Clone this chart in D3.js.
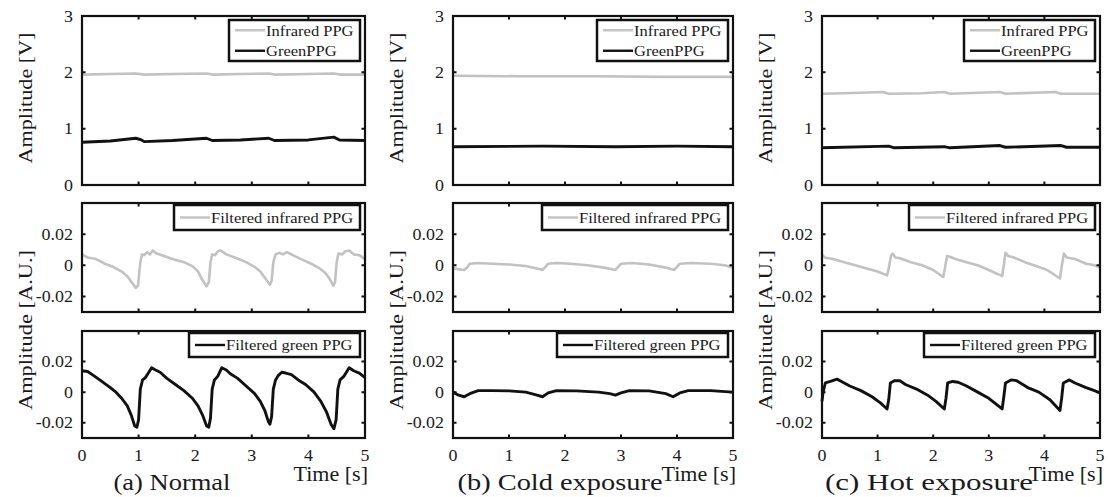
<!DOCTYPE html>
<html lang="en">
<head>
<meta charset="utf-8">
<title>PPG exposure</title>
<script src="https://cdn.jsdelivr.net/npm/d3@7/dist/d3.min.js"></script>
<style>
  body { margin: 0; background: #fff; }
  svg { display: block; }
  text { font-family: "Liberation Serif", "Times New Roman", serif; fill: #1a1a1a; }
</style>
</head>
<body>
<svg id="chart" width="1108" height="497"></svg>
<script>
// ---- data: [time s, amplitude] ----
var normalIr = [[0,1.96],[0.5,1.97],[0.95,1.98],[1.1,1.96],[1.6,1.97],[2.2,1.98],[2.3,1.96],[2.8,1.97],[3.3,1.98],[3.4,1.96],[4.0,1.97],[4.45,1.98],[4.55,1.96],[5,1.96]];
var normalGreen = [[0,0.76],[0.5,0.78],[0.95,0.83],[1.05,0.8],[1.1,0.77],[1.6,0.79],[2.2,0.83],[2.3,0.79],[2.8,0.8],[3.3,0.83],[3.4,0.79],[4.0,0.8],[4.45,0.85],[4.55,0.8],[5,0.79]];
var coldIr = [[0,1.94],[1.2,1.93],[2.5,1.93],[3.8,1.92],[5,1.92]];
var coldGreen = [[0,0.68],[1.6,0.69],[2.9,0.68],[4.0,0.69],[5,0.68]];
var hotIr = [[0,1.62],[0.4,1.63],[1.1,1.65],[1.2,1.62],[1.8,1.63],[2.2,1.65],[2.3,1.62],[3.2,1.65],[3.3,1.62],[4.2,1.65],[4.3,1.62],[5,1.62]];
var hotGreen = [[0,0.66],[1.2,0.69],[1.3,0.66],[2.2,0.68],[2.3,0.66],[3.2,0.7],[3.3,0.67],[4.3,0.7],[4.4,0.67],[5,0.67]];

var normalIrF = [[0,0.007],[0.1,0.005],[0.25,0.004],[0.4,0.001],[0.55,-0.001],[0.7,-0.004],[0.8,-0.007],[0.88,-0.011],[0.95,-0.0145],[0.99,-0.013],[1.03,0.002],[1.06,0.007],[1.1,0.0065],[1.15,0.0085],[1.2,0.007],[1.25,0.0095],[1.32,0.0075],[1.45,0.006],[1.6,0.004],[1.8,0.002],[1.95,-0.0005],[2.05,-0.004],[2.12,-0.009],[2.2,-0.0135],[2.24,-0.011],[2.27,0.002],[2.3,0.007],[2.35,0.0065],[2.4,0.009],[2.45,0.0095],[2.55,0.007],[2.7,0.005],[2.9,0.002],[3.05,-0.001],[3.15,-0.004],[3.25,-0.009],[3.32,-0.0125],[3.35,-0.01],[3.38,0.002],[3.42,0.007],[3.48,0.008],[3.55,0.007],[3.62,0.0085],[3.75,0.006],[3.9,0.0035],[4.05,0.001],[4.2,-0.002],[4.3,-0.005],[4.38,-0.009],[4.44,-0.013],[4.47,-0.011],[4.5,0.002],[4.53,0.0075],[4.6,0.007],[4.65,0.009],[4.72,0.0095],[4.8,0.007],[4.9,0.0065],[5,0.004]];
var normalGreenF = [[0,0.014],[0.1,0.0135],[0.2,0.011],[0.35,0.007],[0.5,0.003],[0.6,0],[0.7,-0.004],[0.8,-0.009],[0.87,-0.015],[0.93,-0.022],[0.97,-0.023],[1.0,-0.018],[1.03,0.002],[1.07,0.008],[1.12,0.0095],[1.18,0.013],[1.23,0.016],[1.3,0.0145],[1.38,0.013],[1.5,0.009],[1.65,0.005],[1.8,0.001],[1.95,-0.004],[2.05,-0.009],[2.13,-0.015],[2.2,-0.022],[2.24,-0.023],[2.27,-0.017],[2.3,0.002],[2.34,0.008],[2.4,0.0105],[2.47,0.016],[2.55,0.0145],[2.62,0.012],[2.75,0.009],[2.9,0.004],[3.05,-0.001],[3.15,-0.006],[3.23,-0.012],[3.29,-0.019],[3.32,-0.021],[3.35,-0.016],[3.38,0.002],[3.42,0.008],[3.47,0.011],[3.53,0.013],[3.6,0.0125],[3.7,0.0115],[3.82,0.008],[3.95,0.005],[4.1,0],[4.22,-0.006],[4.32,-0.013],[4.4,-0.021],[4.45,-0.024],[4.49,-0.018],[4.52,0.002],[4.56,0.008],[4.63,0.0105],[4.72,0.016],[4.8,0.014],[4.9,0.0125],[5,0.0095]];
var coldIrF = [[0,-0.002],[0.1,-0.0025],[0.2,-0.003],[0.25,-0.0015],[0.3,0.001],[0.45,0.0015],[0.7,0.001],[1.0,0.0005],[1.3,-0.0005],[1.5,-0.002],[1.6,-0.003],[1.65,-0.001],[1.7,0.001],[1.85,0.0015],[2.1,0.001],[2.4,0],[2.7,-0.0015],[2.9,-0.003],[2.95,-0.001],[3.0,0.001],[3.2,0.0015],[3.5,0.0005],[3.8,-0.0015],[3.95,-0.003],[4.0,-0.001],[4.05,0.001],[4.25,0.0015],[4.6,0.001],[4.85,0],[5,-0.0015]];
var coldGreenF = [[0,0],[0.1,-0.002],[0.2,-0.003],[0.3,-0.001],[0.45,0.001],[0.7,0.001],[1.0,0.0008],[1.3,0],[1.5,-0.002],[1.6,-0.003],[1.7,-0.0005],[1.85,0.001],[2.2,0.0008],[2.6,0],[2.8,-0.001],[2.9,-0.002],[3.0,-0.0005],[3.15,0.001],[3.5,0.0008],[3.8,-0.001],[3.93,-0.003],[4.05,-0.0005],[4.2,0.001],[4.6,0.001],[5,0]];
var hotIrF = [[0,0.007],[0.05,0.005],[0.2,0.004],[0.4,0.002],[0.6,0],[0.8,-0.002],[1.0,-0.004],[1.17,-0.0065],[1.2,-0.002],[1.24,0.006],[1.27,0.0075],[1.32,0.005],[1.4,0.0045],[1.6,0.002],[1.8,0],[2.0,-0.003],[2.18,-0.0075],[2.21,-0.002],[2.25,0.006],[2.3,0.0055],[2.4,0.004],[2.6,0.002],[2.8,0],[3.0,-0.003],[3.24,-0.007],[3.27,0],[3.3,0.008],[3.35,0.006],[3.45,0.005],[3.65,0.002],[3.85,-0.0005],[4.05,-0.003],[4.28,-0.0085],[4.31,-0.001],[4.35,0.0075],[4.4,0.005],[4.55,0.004],[4.75,0.001],[4.9,0],[5,-0.0015]];
var hotGreenF = [[0,-0.006],[0.02,0],[0.06,0.006],[0.15,0.007],[0.27,0.0085],[0.35,0.007],[0.5,0.004],[0.7,0.001],[0.9,-0.003],[1.05,-0.007],[1.17,-0.011],[1.2,-0.005],[1.23,0.006],[1.3,0.0075],[1.4,0.0075],[1.5,0.005],[1.7,0.002],[1.9,-0.002],[2.05,-0.006],[2.2,-0.011],[2.23,-0.004],[2.26,0.006],[2.35,0.007],[2.45,0.0065],[2.6,0.004],[2.8,0],[3.0,-0.004],[3.24,-0.011],[3.27,-0.003],[3.3,0.006],[3.4,0.008],[3.5,0.0075],[3.7,0.003],[3.9,0],[4.1,-0.005],[4.28,-0.012],[4.31,-0.004],[4.34,0.006],[4.45,0.008],[4.55,0.006],[4.75,0.003],[4.9,0.001],[5,-0.0005]];

var timeTicks = [0, 1, 2, 3, 4, 5];
var rawTicks = [0, 1, 2, 3];
var filtTicks = [-0.02, 0, 0.02];
var captions = ["(a) Normal", "(b) Cold exposure", "(c)  Hot exposure"];

var GRAY = "#c2c2c2", BLACK = "#111";

// ---- layout ----
var svg = d3.select("#chart");
var cols = [
  {l: 82,  r: 365, capX: 172, capLen: 117, raw: [normalIr, normalGreen], ir: normalIrF, gr: normalGreenF},
  {l: 453, r: 733, capX: 560, capLen: 205, raw: [coldIr, coldGreen],     ir: coldIrF,   gr: coldGreenF},
  {l: 822, r: 1100, capX: 929, capLen: 208, raw: [hotIr, hotGreen],      ir: hotIrF,    gr: hotGreenF}
];
var rows = [
  {t: 16,  b: 185, dom: [0, 3],         ticks: rawTicks},
  {t: 203, b: 312, dom: [-0.03, 0.04],  ticks: filtTicks},
  {t: 331, b: 438, dom: [-0.03, 0.04],  ticks: filtTicks}
];
var legends = [
  {w: 131, h: 41, dy: 4, items: [["Infrared PPG", GRAY], ["GreenPPG", BLACK]]},
  {w: 186, h: 25, dy: 2, items: [["Filtered infrared PPG", GRAY]]},
  {w: 171, h: 24, dy: 2, items: [["Filtered green PPG", BLACK]]}
];
var stretch = 1.12;

function stretchText(sel, k) {
  sel.each(function() {
    var len = this.getComputedTextLength();
    d3.select(this).attr("textLength", len * k).attr("lengthAdjust", "spacingAndGlyphs");
  });
}

cols.forEach(function(c, ci) {
  var x = d3.scaleLinear().domain([0, 5]).range([c.l, c.r]);
  rows.forEach(function(rw, ri) {
    var y = d3.scaleLinear().domain(rw.dom).range([rw.b, rw.t]);
    var g = svg.append("g");
    var series = ri === 0 ? [[c.raw[0], GRAY], [c.raw[1], BLACK]]
               : ri === 1 ? [[c.ir, GRAY]] : [[c.gr, BLACK]];
    var line = d3.line().x(function(d) { return x(d[0]); }).y(function(d) { return y(d[1]); });
    series.forEach(function(s) {
      g.append("path").datum(s[0]).attr("d", line)
        .attr("fill", "none").attr("stroke", s[1]).attr("stroke-width", s[1] === GRAY ? 2.6 : 2.9)
        .attr("stroke-linejoin", "round");
    });

    // inward ticks on all four sides (MATLAB box style)
    var tk = 3.5;
    g.selectAll(".xt").data(timeTicks).enter().append("path")
      .attr("d", function(d) { return "M" + x(d) + "," + rw.b + "v" + (-tk) + "M" + x(d) + "," + rw.t + "v" + tk; })
      .attr("stroke", BLACK).attr("stroke-width", 2);
    g.selectAll(".yt").data(rw.ticks).enter().append("path")
      .attr("d", function(d) { return "M" + c.l + "," + y(d) + "h" + tk + "M" + c.r + "," + y(d) + "h" + (-tk); })
      .attr("stroke", BLACK).attr("stroke-width", 2);

    g.append("rect").attr("x", c.l).attr("y", rw.t).attr("width", c.r - c.l).attr("height", rw.b - rw.t)
      .attr("fill", "none").attr("stroke", BLACK).attr("stroke-width", 2.2);

    // y tick labels
    g.selectAll(".yl").data(rw.ticks).enter().append("text")
      .attr("x", c.l - 9).attr("y", function(d) { return y(d); }).attr("dy", "0.35em")
      .attr("text-anchor", "end").attr("font-size", 16)
      .text(function(d) { return d === 0 ? "0" : (ri === 0 ? d : d.toFixed(2)); })
      .call(stretchText, stretch);

    // x tick labels only on the bottom row
    if (ri === 2) {
      g.selectAll(".xl").data(timeTicks).enter().append("text")
        .attr("x", function(d) { return x(d); }).attr("y", 461)
        .attr("text-anchor", "middle").attr("font-size", 16)
        .text(function(d) { return d; })
        .call(stretchText, stretch);
    }

    // legend
    var lg = legends[ri];
    var lx = c.r - 5 - lg.w, ly = rw.t + lg.dy;
    var lgG = g.append("g");
    lgG.append("rect").attr("x", lx).attr("y", ly).attr("width", lg.w).attr("height", lg.h)
      .attr("fill", "#fff").attr("stroke", BLACK).attr("stroke-width", 2.5);
    var step = lg.h / lg.items.length;
    lg.items.forEach(function(it, k) {
      var cy = ly + step * (k + 0.5);
      lgG.append("line").attr("x1", lx + 6).attr("x2", lx + 36).attr("y1", cy).attr("y2", cy)
        .attr("stroke", it[1]).attr("stroke-width", 2.4);
      lgG.append("text").attr("x", lx + 37).attr("y", cy).attr("dy", "0.35em")
        .attr("font-size", 15).text(it[0])
        .call(stretchText, 1.1);
    });
  });

  // axis labels
  var labX = c.l - 57;
  svg.append("text").attr("transform", "translate(" + labX + ",98) rotate(-90)")
    .attr("text-anchor", "middle").attr("dy", "0.35em").attr("font-size", 19)
    .attr("textLength", 131).attr("lengthAdjust", "spacingAndGlyphs")
    .text("Amplitude [V]");
  svg.append("text").attr("transform", "translate(" + labX + ",330) rotate(-90)")
    .attr("text-anchor", "middle").attr("dy", "0.35em").attr("font-size", 19)
    .attr("textLength", 160).attr("lengthAdjust", "spacingAndGlyphs")
    .text("Amplitude [A.U.]");

  svg.append("text").attr("x", c.r + 3).attr("y", 481).attr("text-anchor", "end")
    .attr("font-size", 21).text("Time [s]").call(stretchText, 1.05);

  svg.append("text").attr("x", c.capX).attr("y", 490).attr("text-anchor", "middle")
    .attr("font-size", 23).attr("textLength", c.capLen).attr("lengthAdjust", "spacingAndGlyphs")
    .text(captions[ci]);
});
</script>
</body>
</html>
